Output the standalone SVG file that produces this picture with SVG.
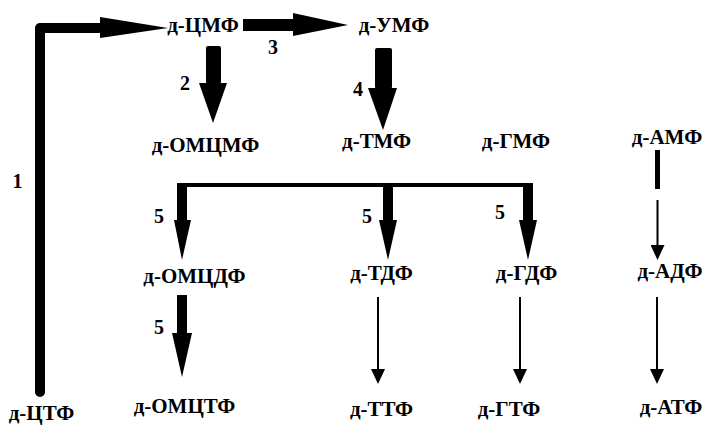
<svg xmlns="http://www.w3.org/2000/svg" width="704" height="427" viewBox="0 0 704 427">
<style>
text{font-family:"Liberation Serif","Times New Roman",serif;font-weight:bold;fill:#000}
.n{font-size:21px;text-anchor:middle}
.l{font-size:20px;text-anchor:middle}
.thin{stroke:#000;stroke-width:2;fill:none}
.blk{fill:#000}
</style>
<defs>
<marker id="ah" viewBox="0 0 15 14" markerWidth="15" markerHeight="14" refX="0" refY="7" orient="auto" markerUnits="userSpaceOnUse">
<path d="M0,0 L15,7 L0,14 z" fill="#000"/>
</marker>
</defs>
<rect width="704" height="427" fill="#fff"/>
<g id="connectors">
<g id="c1">
<path d="M40,392 L40,28 L101,28" stroke="#000" stroke-width="10" fill="none" stroke-linecap="round" stroke-linejoin="round"/>
<polygon class="blk" points="100,17 168,28 100,38"/>
</g>
<g id="c3">
<rect class="blk" x="243" y="19" width="51" height="12"/>
<polygon class="blk" points="293,13 348,25 293,36"/>
</g>
<g id="c2">
<rect class="blk" x="206" y="46" width="15" height="38" rx="2"/>
<polygon class="blk" points="199,83 227,83 213,123"/>
</g>
<g id="c4">
<rect class="blk" x="375" y="48" width="17" height="41" rx="2"/>
<polygon class="blk" points="368,88 397,88 383,130"/>
</g>
<g id="c5">
<path d="M182,221 L182,185 L531,185" stroke="#000" stroke-width="4" fill="none"/>
<rect class="blk" x="177" y="183" width="10" height="38"/>
<polygon class="blk" points="174,220 191,220 182,260"/>
<rect class="blk" x="383" y="185" width="10" height="36"/>
<polygon class="blk" points="379,220 397,220 388,260"/>
<rect class="blk" x="523" y="183" width="10" height="38"/>
<polygon class="blk" points="519,220 537,220 528,260"/>
</g>
<g id="c5b">
<rect class="blk" x="177" y="295" width="10" height="39"/>
<polygon class="blk" points="172,333 192,333 182,377"/>
</g>
<g id="c6">
<rect class="blk" x="655" y="150" width="5" height="39"/>
<line class="thin" x1="657.5" y1="200" x2="657.5" y2="245" marker-end="url(#ah)"/>
</g>
<line class="thin" x1="378" y1="297" x2="378" y2="369" marker-end="url(#ah)"/>
<line class="thin" x1="520" y1="297" x2="520" y2="369" marker-end="url(#ah)"/>
<line class="thin" x1="657" y1="297" x2="657" y2="369" marker-end="url(#ah)"/>
</g>
<g id="labels">
<text class="l" x="17.5" y="188">1</text>
<text class="l" x="185" y="90">2</text>
<text class="l" x="273" y="54">3</text>
<text class="l" x="358" y="96">4</text>
<text class="l" x="159" y="223">5</text>
<text class="l" x="367" y="223">5</text>
<text class="l" x="500" y="219">5</text>
<text class="l" x="159" y="334">5</text>
</g>
<g id="n-cmf"><text class="n" x="203" y="32">д-ЦМФ</text></g>
<g id="n-umf"><text class="n" x="394" y="32">д-УМФ</text></g>
<g id="n-omcmf"><text class="n" x="205.5" y="152">д-ОМЦМФ</text></g>
<g id="n-tmf"><text class="n" x="376.5" y="148">д-ТМФ</text></g>
<g id="n-gmf"><text class="n" x="516" y="148">д-ГМФ</text></g>
<g id="n-amf"><text class="n" x="667" y="144">д-АМФ</text></g>
<g id="n-omcdf"><text class="n" x="194.5" y="283">д-ОМЦДФ</text></g>
<g id="n-tdf"><text class="n" x="381.5" y="280">д-ТДФ</text></g>
<g id="n-gdf"><text class="n" x="526.5" y="280">д-ГДФ</text></g>
<g id="n-adf"><text class="n" x="670" y="278">д-АДФ</text></g>
<g id="n-ctf"><text class="n" x="41.5" y="420">д-ЦТФ</text></g>
<g id="n-omctf"><text class="n" x="184.5" y="413">д-ОМЦТФ</text></g>
<g id="n-ttf"><text class="n" x="381.5" y="416">д-ТТФ</text></g>
<g id="n-gtf"><text class="n" x="509" y="416">д-ГТФ</text></g>
<g id="n-atf"><text class="n" x="671" y="414">д-АТФ</text></g>
</svg>
